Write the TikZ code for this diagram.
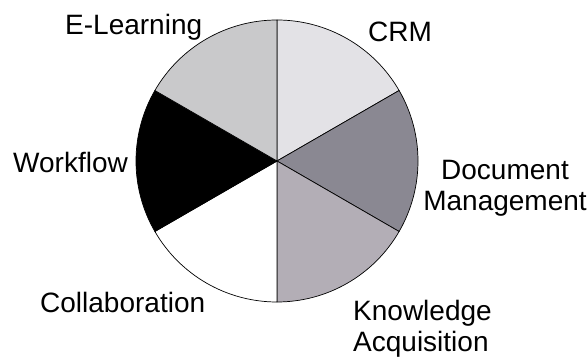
\documentclass[tikz,border=0pt]{standalone}
\usepackage{fontspec}
\setmainfont{Liberation Sans}
\definecolor{elearn}{HTML}{C9C9CB}
\definecolor{crm}{HTML}{E3E2E6}
\definecolor{docm}{HTML}{8A8892}
\definecolor{know}{HTML}{B3AEB6}
\definecolor{collab}{HTML}{FFFFFF}
\definecolor{wflow}{HTML}{000000}
\begin{document}
\begin{tikzpicture}[x=1pt,y=1pt,
  slice/.style={draw=black,line width=0.7pt,line join=round},
  lbl/.style={font=\fontsize{28}{31}\selectfont,inner sep=0pt,text=black}]
\useasboundingbox (0,0) rectangle (588,358);
\fill[white] (0,0) rectangle (588,358);
\coordinate (c) at (277,197);
\def\R{141}
\filldraw[slice,fill=crm]    (c) -- ++(90:\R)  arc[start angle=90,  end angle=30,   radius=\R] -- cycle;
\filldraw[slice,fill=docm]   (c) -- ++(30:\R)  arc[start angle=30,  end angle=-30,  radius=\R] -- cycle;
\filldraw[slice,fill=know]   (c) -- ++(-30:\R) arc[start angle=-30, end angle=-90,  radius=\R] -- cycle;
\filldraw[slice,fill=collab] (c) -- ++(-90:\R) arc[start angle=-90, end angle=-150, radius=\R] -- cycle;
\filldraw[slice,fill=wflow]  (c) -- ++(210:\R) arc[start angle=210, end angle=150,  radius=\R] -- cycle;
\filldraw[slice,fill=elearn] (c) -- ++(150:\R) arc[start angle=150, end angle=90,   radius=\R] -- cycle;
\node[lbl,anchor=base west] (el) at (65,323) {E-Learning};
\node[lbl,anchor=base west] (crmL) at (368,316) {CRM};
\node[lbl,anchor=base west] (wf) at (13,185) {Workflow};
\node[lbl,anchor=base west] (co) at (40,45) {Collaboration};
\node[lbl,anchor=base,align=center] (dm) at (505,147) {Document\\Management};
\node[lbl,anchor=base west,align=left] (ka) at (353,6) {Knowledge\\Acquisition};
\end{tikzpicture}
\end{document}
